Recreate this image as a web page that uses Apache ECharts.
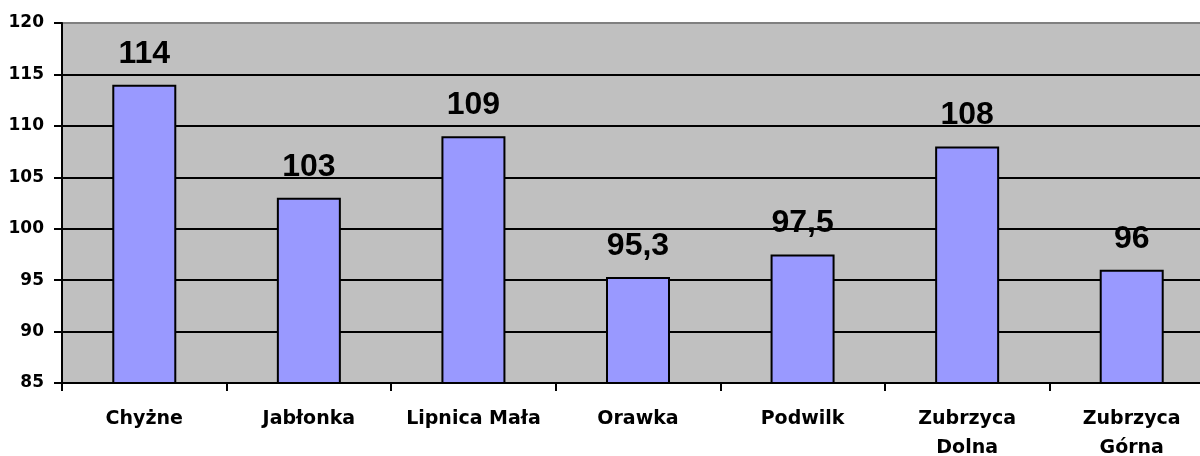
<!DOCTYPE html>
<html>
<head>
<meta charset="utf-8">
<script src="https://cdn.jsdelivr.net/npm/echarts@6/dist/echarts.min.js"></script>
<style>html,body{margin:0;padding:0;background:#fff;overflow:hidden;}#c{width:1214px;height:456px;}</style>
</head>
<body>
<div id="c"></div>
<script>
const categories = ['Chyżne', 'Jabłonka', 'Lipnica Mała', 'Orawka', 'Podwilk', 'Zubrzyca\nDolna', 'Zubrzyca\nGórna'];
const values = [114, 103, 109, 95.3, 97.5, 108, 96];
const yMin = 85, yMax = 120, yStep = 5;

const chart = echarts.init(document.getElementById('c'), null, {renderer: 'canvas'});
const splitColors = [];
for (let v = yMin; v <= yMax; v += yStep) splitColors.push(v === yMax ? '#808080' : '#000000');

chart.setOption({
  animation: false,
  grid: {
    left: 62, top: 23, right: 0, bottom: 73,
    outerBoundsMode: 'none', containLabel: false,
    show: true, backgroundColor: '#c0c0c0', borderColor: '#808080', borderWidth: 2
  },
  xAxis: {
    type: 'category',
    data: categories,
    axisLine: {show: true, lineStyle: {color: '#000', width: 2}},
    axisTick: {show: true, length: 8, lineStyle: {color: '#000', width: 2}, alignWithLabel: false},
    axisLabel: {
      color: '#000', fontFamily: 'DejaVu Sans', fontWeight: 'bold', fontSize: 19,
      lineHeight: 29, margin: 22, interval: 0
    },
    splitLine: {show: false}
  },
  yAxis: {
    type: 'value',
    min: yMin, max: yMax, interval: yStep,
    axisLine: {show: true, lineStyle: {color: '#000', width: 2}},
    axisTick: {show: true, length: 8, lineStyle: {color: '#000', width: 2}},
    axisLabel: {color: '#000', fontFamily: 'DejaVu Sans', fontWeight: 'bold', fontSize: 17, margin: 18},
    splitLine: {show: true, lineStyle: {color: splitColors, width: 2}}
  },
  series: [{
    type: 'bar',
    data: values,
    barWidth: 64,
    itemStyle: {color: '#9999ff', borderColor: '#000', borderWidth: 2},
    label: {
      show: true, position: 'top', distance: 15,
      color: '#000', fontFamily: 'Liberation Sans', fontWeight: 'bold', fontSize: 32,
      formatter: p => String(p.value).replace('.', ',')
    }
  }]
});
</script>
</body>
</html>
